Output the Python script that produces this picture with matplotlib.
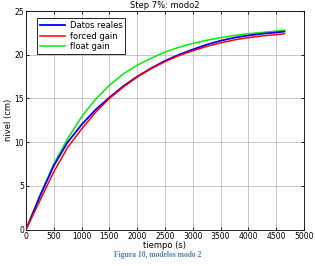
import matplotlib
matplotlib.use("Agg")
import matplotlib.pyplot as plt

t = [0, 250, 500, 750, 1000, 1250, 1500, 1750, 2000, 2250, 2500, 2750,
     3000, 3250, 3500, 3750, 4000, 4250, 4500, 4650]
datos_reales = [0, 3.8, 7.3, 10.0, 12.0, 13.7, 15.1, 16.4, 17.5, 18.45, 19.3, 20.0,
                20.6, 21.15, 21.6, 21.95, 22.2, 22.4, 22.55, 22.65]
forced_gain = [0, 3.3, 6.6, 9.4, 11.5, 13.4, 15.0, 16.3, 17.45, 18.4, 19.2, 19.9,
               20.45, 20.95, 21.35, 21.7, 21.95, 22.15, 22.3, 22.4]
float_gain = [0, 3.9, 7.5, 10.4, 12.9, 14.9, 16.5, 17.8, 18.8, 19.6, 20.3, 20.85,
              21.3, 21.65, 21.95, 22.2, 22.4, 22.55, 22.7, 22.8]
xticks = [0, 500, 1000, 1500, 2000, 2500, 3000, 3500, 4000, 4500, 5000]
yticks = [0, 5, 10, 15, 20, 25]

fig = plt.figure(figsize=(3.15, 2.66), dpi=100)
ax = fig.add_axes([0.0825, 0.137, 0.8825, 0.8216])
ax.plot(t, datos_reales, color="#0000ff", lw=1.3, label="Datos reales", zorder=3)
ax.plot(t, forced_gain, color="#ff0000", lw=1.1, label="forced gain", zorder=4)
ax.plot(t, float_gain, color="#00ee00", lw=1.1, label="float gain", zorder=2)
ax.set_xlim(0, 5000)
ax.set_ylim(0, 25)
ax.set_xticks(xticks)
ax.set_yticks(yticks)
ax.tick_params(direction="in", length=2, width=0.6, labelsize=5.5, pad=1.5,
               top=True, right=True)
ax.grid(True, color="#b0b0b0", lw=0.5)
for s in ax.spines.values():
    s.set_linewidth(0.6)
ax.set_title("Step 7%: modo2", fontsize=6, pad=2)
ax.set_xlabel("tiempo (s)", fontsize=6, labelpad=0.5)
ax.set_ylabel("nivel (cm)", fontsize=6, labelpad=1)
leg = ax.legend(loc="upper left", bbox_to_anchor=(0.025, 0.985), fontsize=6,
                fancybox=False, framealpha=1, edgecolor="black",
                handlelength=3, borderpad=0.3, labelspacing=0.2, handletextpad=0.6)
leg.get_frame().set_linewidth(0.6)
fig.text(0.5, 0.025, "Figura 10, modelos modo 2", ha="center", va="bottom",
         fontsize=5.5, family="Liberation Serif", weight="bold", color="#4f81bd")
fig.savefig("out.png", dpi=100)
